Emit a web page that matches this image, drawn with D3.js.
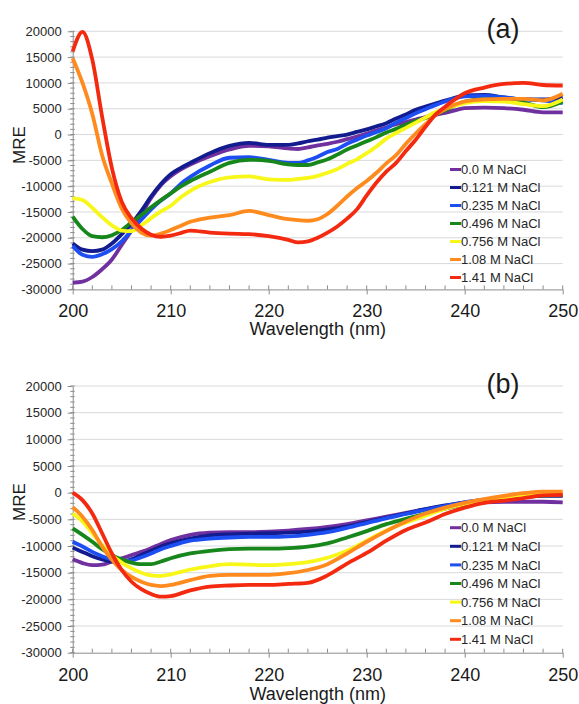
<!DOCTYPE html>
<html>
<head>
<meta charset="utf-8">
<script src="https://cdn.jsdelivr.net/npm/d3@7"></script>
<style>
body { margin: 0; background: #fff; }
text { font-family: "Liberation Sans", Arial, sans-serif; }
</style>
</head>
<body>
<svg id="chart" width="579" height="704"></svg>
<script>
// wavelength grids (nm)
const wlA = [200,201,202,203,204,205,206,207,208,209,210,211,212,214,216,218,220,222,223,224,225,226,227,228,229,230,231,232,233,234,235,236,237,238,239,240,242,244,246,248,250];
const wlB = [200,201,202,203,204,205,206,207,208,209,210,212,214,216,218,220,222,224,226,228,230,232,234,236,238,240,242,244,246,248,250];

const seriesNames = ['0.0 M NaCl','0.121 M NaCl','0.235 M NaCl','0.496 M NaCl','0.756 M NaCl','1.08 M NaCl','1.41 M NaCl'];
const lineColors = ['#7030a0','#121c8e','#1c4ef2','#17871c','#f7f71a','#ff8a1e','#f32a10'];

// panel (a) MRE values
const purpleA = [-28700,-28500,-27600,-26100,-24200,-21400,-18600,-15500,-12300,-9800,-8100,-6800,-5800,-4200,-2900,-2200,-2300,-2700,-2800,-2500,-2100,-1800,-1400,-900,-400,200,800,1400,2000,2400,2900,3400,3800,4200,4700,5100,5200,5100,4800,4300,4300];
const navyA = [-21100,-22300,-22600,-22300,-21100,-19300,-17300,-14800,-12000,-9600,-7700,-6500,-5500,-3600,-2200,-1600,-2000,-2000,-1700,-1300,-1000,-600,-300,0,500,1000,1600,2200,3100,3900,4800,5400,6000,6600,7100,7600,7700,7200,6800,6800,7200];
const blueA = [-21600,-23300,-23700,-23200,-22200,-20700,-18600,-16500,-14500,-12800,-11400,-9600,-8200,-6000,-4500,-4400,-4900,-5500,-5500,-5000,-4300,-3400,-2800,-1800,-1000,-200,500,1200,2300,3200,4100,4900,5700,6400,7000,7400,7500,7200,6800,6600,6100];
const greenA = [-15900,-18300,-19700,-19900,-19500,-18500,-17000,-15600,-14100,-12700,-11400,-10100,-9000,-7200,-5500,-4900,-5100,-5800,-5900,-5900,-5400,-4800,-3900,-2900,-2100,-1300,-500,400,1100,1900,2600,3200,3900,4700,5600,6400,6800,6700,6200,5300,6400];
const yellowA = [-12300,-12700,-14200,-16000,-17600,-18600,-18700,-17600,-16200,-14900,-13800,-12200,-10900,-9200,-8300,-8100,-8700,-8800,-8600,-8400,-8000,-7400,-6700,-5700,-4800,-3600,-2300,-800,300,1300,2300,3300,4300,5000,5600,6100,6500,6400,5900,5500,6800];
const orangeA = [14800,10000,4000,-4000,-9500,-14300,-17200,-19000,-19600,-19200,-18500,-17700,-16900,-16100,-15600,-14800,-15600,-16400,-16600,-16700,-16400,-15400,-13800,-12000,-10400,-9000,-7400,-5600,-4000,-1800,200,2000,3800,4900,5800,6400,6800,6900,6900,6600,7900];
const redA = [16100,19900,14500,3500,-6500,-13000,-16200,-18200,-19400,-19800,-19600,-19100,-18600,-19000,-19200,-19300,-19700,-20400,-20900,-20700,-20000,-19000,-17800,-16300,-14500,-11800,-9300,-7200,-5500,-3200,-1000,1500,3800,5400,6800,8000,9100,9800,10000,9600,9500];

// panel (b) MRE values
const purpleB = [-12500,-13200,-13600,-13500,-12900,-12300,-11700,-11100,-10400,-9600,-8900,-7900,-7500,-7400,-7400,-7300,-7100,-6800,-6400,-5900,-5200,-4500,-3800,-3100,-2500,-2100,-1800,-1700,-1700,-1700,-1800];
const navyB = [-10300,-11100,-11900,-12500,-12900,-12900,-12500,-11700,-10900,-10100,-9500,-8600,-8000,-7800,-7700,-7600,-7500,-7300,-6900,-6300,-5500,-4700,-3900,-3100,-2400,-1800,-1400,-1100,-800,-600,-600];
const blueB = [-9200,-10100,-11100,-11900,-12500,-12800,-12700,-12100,-11400,-10600,-10000,-9000,-8600,-8400,-8300,-8300,-8200,-7900,-7400,-6600,-5700,-4800,-4000,-3200,-2500,-1800,-1300,-900,-600,-400,-400];
const greenB = [-6700,-7900,-9200,-10600,-11700,-12500,-13100,-13400,-13400,-12900,-12300,-11400,-10900,-10600,-10500,-10500,-10400,-10100,-9500,-8400,-7200,-5900,-4900,-3900,-3000,-2200,-1500,-1000,-700,-500,-400];
const yellowB = [-3900,-5400,-7600,-9800,-11700,-13100,-14200,-15000,-15500,-15600,-15300,-14400,-13800,-13400,-13500,-13600,-13400,-13000,-12200,-10900,-9000,-7100,-5600,-4300,-3000,-2100,-1400,-900,-500,-300,-100];
const orangeB = [-2700,-4500,-7000,-10100,-12600,-14500,-15800,-16700,-17300,-17500,-17300,-16400,-15600,-15400,-15400,-15400,-15100,-14500,-13400,-11400,-9200,-7200,-5400,-3900,-2800,-1900,-1200,-600,-100,200,200];
const redB = [0,-1400,-3900,-7600,-11400,-14500,-16700,-18100,-19000,-19500,-19400,-18300,-17600,-17400,-17300,-17300,-17100,-16900,-15500,-13300,-11300,-9000,-7000,-5600,-4000,-2800,-1900,-1500,-1000,-500,-400];

const yTicks = d3.range(-30000, 20001, 5000);
const yMinor = d3.range(-30000, 20001, 1000);
const xTicks = [200, 210, 220, 230, 240, 250];
const xMinor = d3.range(200, 251, 2);

const svg = d3.select('#chart');
const left = 72.7, right = 562.7;

function drawPanel(p) {
	const x = d3.scaleLinear().domain([200, 250]).range([left, right]);
	const y = d3.scaleLinear().domain([-30000, 20000]).range([p.bottom, p.top]);
	const g = svg.append('g');

	// gridlines
	g.append('g').selectAll('line')
		.data(yTicks.filter(function(d){ return d > -30000 }))
		.enter().append('line')
		.attr('x1', left).attr('x2', right)
		.attr('y1', function(d){ return y(d) }).attr('y2', function(d){ return y(d) })
		.style('stroke', '#d9d9d9').style('stroke-width', 1);

	// y axis
	const yAxis = g.append('g')
		.attr('transform', 'translate(' + left + ',0)')
		.call(d3.axisLeft(y).tickValues(yTicks).tickSize(5).tickSizeOuter(0).tickPadding(6)
			.tickFormat(function(d){ return String(d) }));
	yAxis.selectAll('text').style('font-size', '13px').style('fill', '#262626');
	g.append('g').selectAll('line')
		.data(yMinor)
		.enter().append('line')
		.attr('x1', left - 2.5).attr('x2', left + 2)
		.attr('y1', function(d){ return y(d) }).attr('y2', function(d){ return y(d) })
		.style('stroke', '#8c8c8c');

	// x axis
	const xAxis = g.append('g')
		.attr('transform', 'translate(0,' + p.bottom + ')')
		.call(d3.axisBottom(x).tickValues(xTicks).tickSize(5).tickSizeOuter(0).tickPadding(p.xPad)
			.tickFormat(function(d){ return String(d) }));
	xAxis.selectAll('text').style('font-size', '18px').style('fill', '#1a1a1a');
	g.append('g').selectAll('line')
		.data(xMinor)
		.enter().append('line')
		.attr('x1', function(d){ return x(d) }).attr('x2', function(d){ return x(d) })
		.attr('y1', p.bottom - 4).attr('y2', p.bottom)
		.style('stroke', '#8c8c8c');
	g.selectAll('.domain, .tick line').style('stroke', '#8c8c8c');

	// axis titles
	g.append('text')
		.attr('x', (left + right) / 2).attr('y', p.bottom + p.titleOff)
		.style('text-anchor', 'middle').style('font-size', '18px').style('fill', '#1a1a1a')
		.text('Wavelength (nm)');
	g.append('text')
		.attr('transform', 'translate(25,' + p.mreY + ') rotate(-90)')
		.style('text-anchor', 'middle').style('font-size', '17px').style('fill', '#1a1a1a')
		.text('MRE');

	// curves
	const line = d3.line()
		.x(function(d){ return x(d[0]) })
		.y(function(d){ return y(d[1]) })
		.curve(d3.curveMonotoneX);
	g.append('g').selectAll('path')
		.data(p.series)
		.enter().append('path')
		.attr('d', function(s){ return line(d3.zip(p.wl, s)) })
		.style('fill', 'none')
		.style('stroke', function(s, i){ return lineColors[i] })
		.style('stroke-width', 3.8)
		.style('stroke-linejoin', 'round');

	// legend
	const leg = g.append('g').selectAll('g')
		.data(seriesNames)
		.enter().append('g')
		.attr('transform', function(d, i){ return 'translate(450,' + (p.legY + i * p.legStep) + ')' });
	leg.append('line')
		.attr('x1', 0).attr('x2', 11)
		.style('stroke', function(d, i){ return lineColors[i] })
		.style('stroke-width', 3);
	leg.append('text')
		.attr('x', 11).attr('dy', '0.36em')
		.style('font-size', '13px').style('fill', '#262626')
		.text(function(d){ return d });

	// panel tag
	g.append('text')
		.attr('x', 503).attr('y', p.tagY)
		.style('text-anchor', 'middle').style('font-size', '27px').style('fill', '#1a1a1a')
		.text(p.tag);
}

drawPanel({
	top: 31.3, bottom: 289.4, xPad: 9.5, titleOff: 45.5, mreY: 145,
	wl: wlA, series: [purpleA, navyA, blueA, greenA, yellowA, orangeA, redA],
	legY: 169.5, legStep: 18, tag: '(a)', tagY: 38
});
drawPanel({
	top: 386, bottom: 652.7, xPad: 11, titleOff: 47, mreY: 502,
	wl: wlB, series: [purpleB, navyB, blueB, greenB, yellowB, orangeB, redB],
	legY: 527.7, legStep: 18.6, tag: '(b)', tagY: 392.7
});
</script>
</body>
</html>
